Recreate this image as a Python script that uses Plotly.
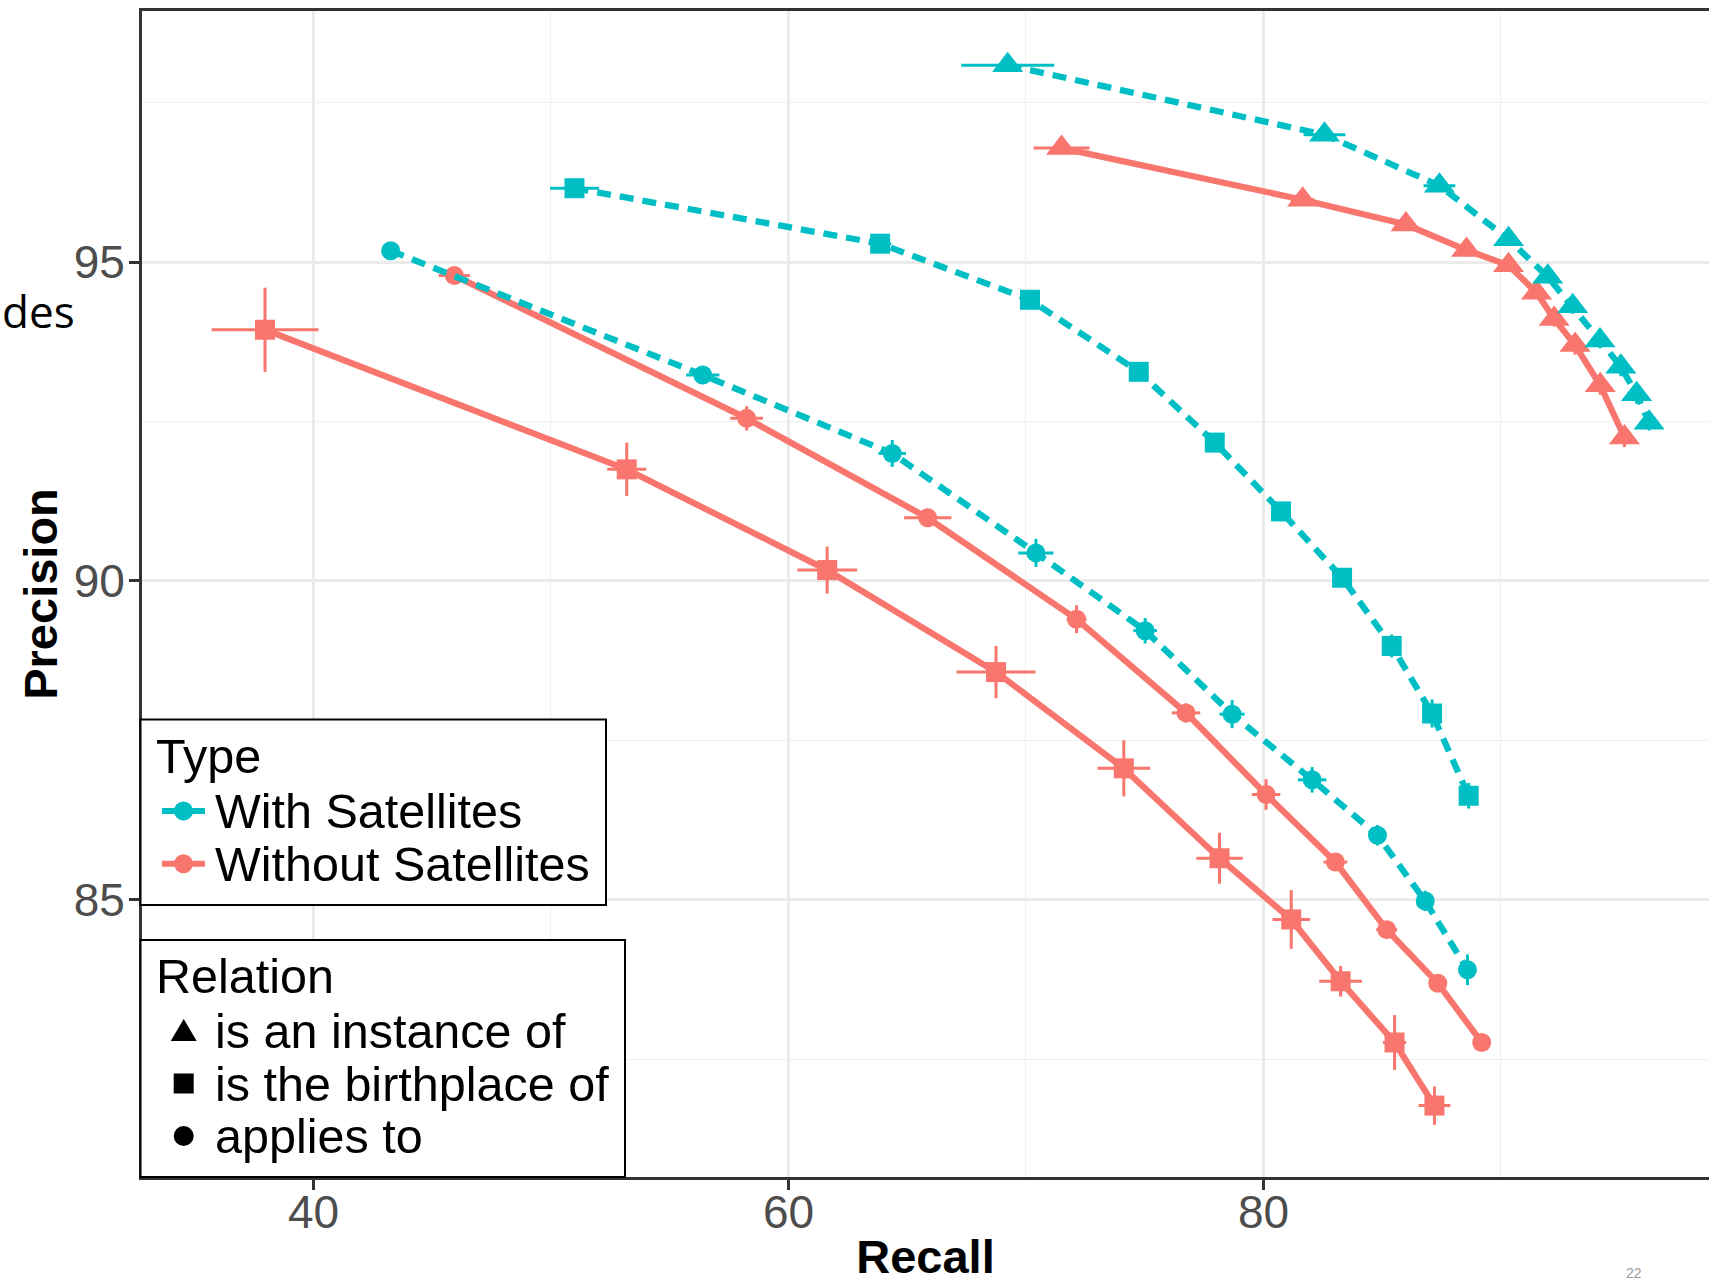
import plotly.graph_objects as go

# ---------------- data ----------------
types = ["With Satellites", "Without Satellites"]
relations = ["is an instance of", "is the birthplace of", "applies to"]

# With Satellites / is an instance of
ws_inst_recall = [69.23, 82.57, 87.41, 90.32, 91.97, 93.02, 94.17, 95.05, 95.71, 96.24]
ws_inst_prec = [98.09, 97.00, 96.20, 95.36, 94.77, 94.31, 93.77, 93.36, 92.93, 92.48]
ws_inst_err_r = [1.96, 0.88, 0.67, 0.30, 0.25, 0.20, 0.20, 0.20, 0.20, 0.20]
ws_inst_err_p = [0.05, 0.08, 0.10, 0.10, 0.10, 0.12, 0.12, 0.15, 0.15, 0.12]

# Without Satellites / is an instance of
wo_inst_recall = [71.50, 81.65, 86.00, 88.55, 90.32, 91.50, 92.24, 93.12, 94.18, 95.20]
wo_inst_prec = [96.79, 95.98, 95.59, 95.19, 94.95, 94.52, 94.11, 93.70, 93.07, 92.25]
wo_inst_err_r = [1.18, 0.50, 0.40, 0.30, 0.30, 0.20, 0.20, 0.20, 0.20, 0.20]
wo_inst_err_p = [0.05, 0.08, 0.10, 0.10, 0.10, 0.10, 0.12, 0.15, 0.15, 0.15]

# With Satellites / is the birthplace of
ws_birth_recall = [50.99, 63.86, 70.17, 74.75, 77.95, 80.74, 83.31, 85.40, 87.10, 88.64]
ws_birth_prec = [96.16, 95.29, 94.41, 93.28, 92.17, 91.09, 90.05, 88.98, 87.92, 86.63]
ws_birth_err_r = [1.03, 0.47, 0.30, 0.30, 0.30, 0.30, 0.30, 0.30, 0.30, 0.30]
ws_birth_err_p = [0.05, 0.10, 0.10, 0.10, 0.10, 0.10, 0.12, 0.18, 0.22, 0.20]

# Without Satellites / is the birthplace of
wo_birth_recall = [37.96, 53.19, 61.63, 68.74, 74.12, 78.15, 81.17, 83.25, 85.52, 87.20]
wo_birth_prec = [93.94, 91.75, 90.17, 88.57, 87.06, 85.65, 84.69, 83.72, 82.76, 81.77]
wo_birth_err_r = [2.25, 0.82, 1.26, 1.66, 1.11, 0.98, 0.79, 0.90, 0.49, 0.67]
wo_birth_err_p = [0.66, 0.42, 0.37, 0.41, 0.44, 0.40, 0.46, 0.24, 0.43, 0.30]

# With Satellites / applies to
ws_app_recall = [43.25, 56.39, 64.37, 70.42, 75.02, 78.68, 82.05, 84.80, 86.81, 88.59]
ws_app_prec = [95.18, 93.23, 92.00, 90.44, 89.22, 87.91, 86.88, 86.01, 84.98, 83.90]
ws_app_err_r = [0.30, 0.70, 0.58, 0.74, 0.50, 0.53, 0.60, 0.30, 0.30, 0.30]
ws_app_err_p = [0.05, 0.10, 0.21, 0.22, 0.20, 0.22, 0.20, 0.16, 0.16, 0.24]

# Without Satellites / applies to
wo_app_recall = [45.93, 58.24, 65.86, 72.13, 76.74, 80.11, 83.03, 85.19, 87.34, 89.19]
wo_app_prec = [94.79, 92.55, 90.99, 89.40, 87.93, 86.65, 85.59, 84.53, 83.69, 82.76]
wo_app_err_r = [0.66, 0.69, 1.00, 0.42, 0.60, 0.60, 0.50, 0.44, 0.30, 0.30]
wo_app_err_p = [0.05, 0.19, 0.10, 0.22, 0.15, 0.24, 0.10, 0.10, 0.10, 0.10]

x_tick_vals = [40, 60, 80]
y_tick_vals = [85, 90, 95]

# ---------------- styling ----------------
W, H = 1709, 1283
PL, PR, PT, PB = 142, 1709, 11, 1177   # plot area in pixels
X_RANGE = [32.78, 98.76]
Y_RANGE = [80.65, 98.94]

type_color = {"With Satellites": "#00BFC4", "Without Satellites": "#F8766D"}
type_dash = {"With Satellites": "14px,9px", "Without Satellites": "solid"}
rel_symbol = {"is an instance of": "triangle-up", "is the birthplace of": "square", "applies to": "circle"}
rel_size = {"is an instance of": 27, "is the birthplace of": 20, "applies to": 19}
FONT = "Liberation Sans, Arial, Helvetica, sans-serif"
LEG_SIZE = 48.5

series = [
    ("Without Satellites", "is an instance of", wo_inst_recall, wo_inst_prec, wo_inst_err_r, wo_inst_err_p),
    ("Without Satellites", "is the birthplace of", wo_birth_recall, wo_birth_prec, wo_birth_err_r, wo_birth_err_p),
    ("Without Satellites", "applies to", wo_app_recall, wo_app_prec, wo_app_err_r, wo_app_err_p),
    ("With Satellites", "is an instance of", ws_inst_recall, ws_inst_prec, ws_inst_err_r, ws_inst_err_p),
    ("With Satellites", "is the birthplace of", ws_birth_recall, ws_birth_prec, ws_birth_err_r, ws_birth_err_p),
    ("With Satellites", "applies to", ws_app_recall, ws_app_prec, ws_app_err_r, ws_app_err_p),
]

fig = go.Figure()
for t, rel, rec, prec, er, ep in series:
    c = type_color[t]
    fig.add_trace(go.Scatter(
        x=rec, y=prec, mode="lines+markers", name=f"{t} - {rel}",
        line=dict(color=c, width=6.3, dash=type_dash[t]),
        marker=dict(symbol=rel_symbol[rel], size=rel_size[rel], color=c, line=dict(width=0)),
        error_x=dict(type="data", array=er, symmetric=True, width=0, thickness=3, color=c),
        error_y=dict(type="data", array=ep, symmetric=True, width=0, thickness=3, color=c),
        showlegend=False, cliponaxis=True,
    ))


def px_x(px):
    return (px - PL) / (PR - PL)


def px_y(py):
    return (PB - py) / (PB - PT)


shapes = []
annotations = []

# ---- legend: Type ----
shapes.append(dict(type="rect", xref="paper", yref="paper",
                   x0=px_x(140.5), x1=px_x(606), y0=px_y(905), y1=px_y(719.5),
                   line=dict(color="black", width=2), fillcolor="white", layer="above"))
annotations.append(dict(text="Type", xref="paper", yref="paper", x=px_x(154), y=px_y(756),
                        xanchor="left", yanchor="middle", showarrow=False,
                        font=dict(family=FONT, size=LEG_SIZE, color="black")))
for i, t in enumerate(types):
    cy = 811 + i * 52.7
    c = type_color[t]
    shapes.append(dict(type="line", xref="paper", yref="paper",
                       x0=px_x(162), x1=px_x(205), y0=px_y(cy), y1=px_y(cy),
                       line=dict(color=c, width=6), layer="above"))
    shapes.append(dict(type="circle", xref="paper", yref="paper",
                       x0=px_x(183.5 - 9.5), x1=px_x(183.5 + 9.5), y0=px_y(cy + 9.5), y1=px_y(cy - 9.5),
                       line=dict(width=0), fillcolor=c, layer="above"))
    annotations.append(dict(text=t, xref="paper", yref="paper", x=px_x(213), y=px_y(cy),
                            xanchor="left", yanchor="middle", showarrow=False,
                            font=dict(family=FONT, size=LEG_SIZE, color="black")))

# ---- legend: Relation ----
shapes.append(dict(type="rect", xref="paper", yref="paper",
                   x0=px_x(140.5), x1=px_x(625), y0=px_y(1177), y1=px_y(940),
                   line=dict(color="black", width=2), fillcolor="white", layer="above"))
annotations.append(dict(text="Relation", xref="paper", yref="paper", x=px_x(154), y=px_y(976),
                        xanchor="left", yanchor="middle", showarrow=False,
                        font=dict(family=FONT, size=LEG_SIZE, color="black")))
for i, rel in enumerate(relations):
    cy = 1031 + i * 52.5
    cx = 183.7
    if rel_symbol[rel] == "triangle-up":
        path = (f"M {px_x(cx - 13)},{px_y(cy + 10)} L {px_x(cx + 13)},{px_y(cy + 10)} "
                f"L {px_x(cx)},{px_y(cy - 12)} Z")
        shapes.append(dict(type="path", xref="paper", yref="paper", path=path,
                           line=dict(width=0), fillcolor="black", layer="above"))
    elif rel_symbol[rel] == "square":
        shapes.append(dict(type="rect", xref="paper", yref="paper",
                           x0=px_x(cx - 10), x1=px_x(cx + 10), y0=px_y(cy + 10), y1=px_y(cy - 10),
                           line=dict(width=0), fillcolor="black", layer="above"))
    else:
        shapes.append(dict(type="circle", xref="paper", yref="paper",
                           x0=px_x(cx - 10), x1=px_x(cx + 10), y0=px_y(cy + 10), y1=px_y(cy - 10),
                           line=dict(width=0), fillcolor="black", layer="above"))
    annotations.append(dict(text=rel, xref="paper", yref="paper", x=px_x(213), y=px_y(cy),
                            xanchor="left", yanchor="middle", showarrow=False,
                            font=dict(family=FONT, size=LEG_SIZE, color="black")))

# ---- stray slide text ----
annotations.append(dict(text="des", xref="paper", yref="paper", x=px_x(0), y=px_y(311),
                        xanchor="left", yanchor="middle", showarrow=False,
                        font=dict(family="Open Sans, Noto Sans, sans-serif", size=44, color="black")))
annotations.append(dict(text="22", xref="paper", yref="paper", x=px_x(1634), y=px_y(1283),
                        xanchor="center", yanchor="bottom", showarrow=False,
                        font=dict(family=FONT, size=14, color="#9A9A9A")))

fig.update_layout(
    width=W, height=H,
    margin=dict(l=PL, r=W - PR, t=PT, b=H - PB, pad=0, autoexpand=False),
    paper_bgcolor="white", plot_bgcolor="white",
    shapes=shapes, annotations=annotations,
    font=dict(family=FONT),
)

fig.update_xaxes(
    range=X_RANGE, tickmode="array", tickvals=x_tick_vals, ticktext=[str(v) for v in x_tick_vals],
    showgrid=True, gridcolor="#EBEBEB", gridwidth=2.6, zeroline=False,
    minor=dict(tickmode="array", tickvals=[30, 50, 70, 90], showgrid=True, gridcolor="#EFEFEF", gridwidth=1.4),
    ticks="outside", ticklen=10, tickwidth=2.5, tickcolor="#333333",
    showline=True, linecolor="#333333", linewidth=3, mirror=True,
    tickfont=dict(family=FONT, size=46, color="#4D4D4D"),
    ticklabelstandoff=-17,
    title=dict(text="Recall", font=dict(family=FONT, size=47, color="black", weight="bold"), standoff=34),
    automargin=False,
)
fig.update_yaxes(
    range=Y_RANGE, tickmode="array", tickvals=y_tick_vals, ticktext=[str(v) for v in y_tick_vals],
    showgrid=True, gridcolor="#EBEBEB", gridwidth=2.6, zeroline=False,
    minor=dict(tickmode="array", tickvals=[82.5, 87.5, 92.5, 97.5], showgrid=True, gridcolor="#EFEFEF", gridwidth=1.4),
    ticks="outside", ticklen=10, tickwidth=2.5, tickcolor="#333333",
    showline=True, linecolor="#333333", linewidth=3,
    tickfont=dict(family=FONT, size=46, color="#4D4D4D"),
    ticklabelstandoff=-5,
    title=dict(text="Precision", font=dict(family=FONT, size=47, color="black", weight="bold"), standoff=2),
    automargin=False,
)

fig.write_html(
    "out.html",
    config={"displayModeBar": False},
    post_script="document.body.style.margin='0px';document.body.style.overflow='hidden';",
)
